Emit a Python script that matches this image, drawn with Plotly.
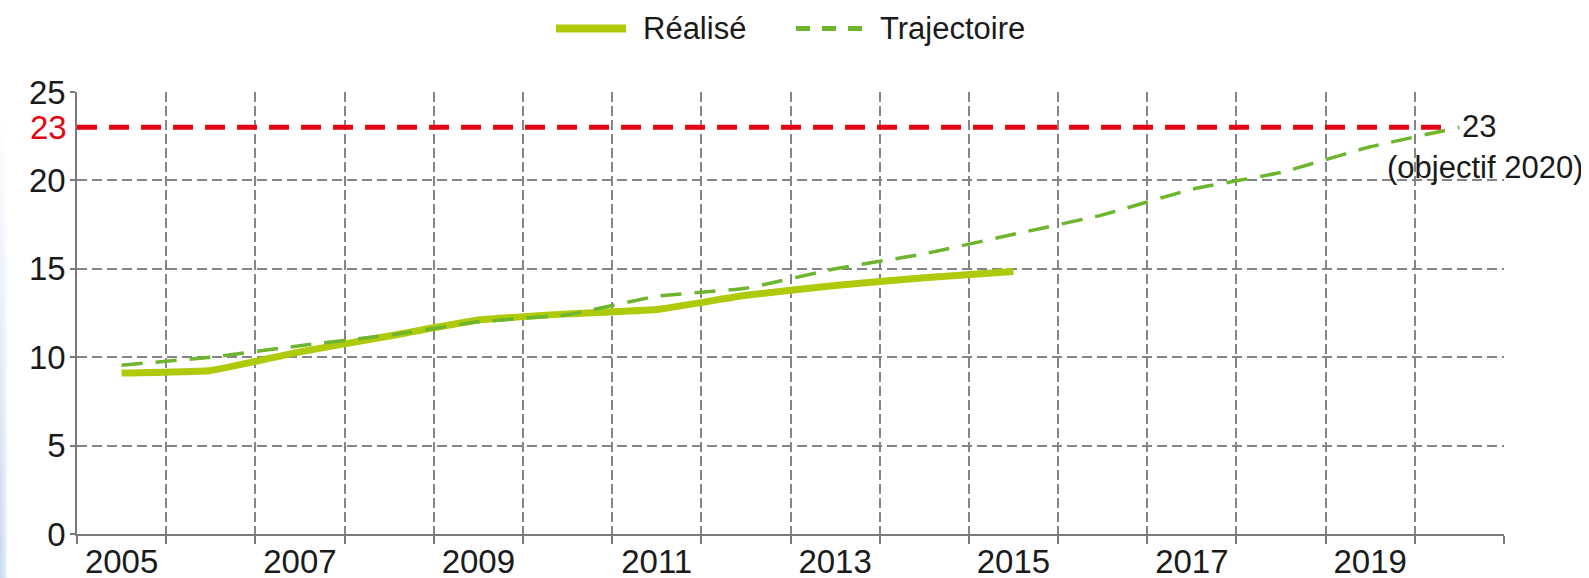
import plotly.graph_objects as go

# ---- data ----
years_realise = [2005, 2006, 2007, 2008, 2009, 2010, 2011, 2012, 2013, 2014, 2015]
realise = [9.1, 9.25, 10.3, 11.2, 12.1, 12.45, 12.7, 13.5, 14.05, 14.5, 14.85]

years_traj = list(range(2005, 2021))
trajectoire = [9.55, 10.0, 10.65, 11.25, 12.0, 12.4, 13.45, 13.9, 15.0, 15.85,
               16.95, 18.05, 19.5, 20.45, 21.9, 23.0]

target = 23
target_label = "23"
target_note = "(objectif 2020)"
x_labels = [2005, 2007, 2009, 2011, 2013, 2015, 2017, 2019]
y_ticks = [0, 5, 10, 15, 20, 25]
series_names = ["Réalisé", "Trajectoire"]

# ---- styling ----
FONT = "Liberation Sans, Arial, Helvetica, sans-serif"
C_REAL = "#afca0b"
C_TRAJ = "#6db52c"
C_RED = "#e30613"
C_GRID = "#858585"
C_TEXT = "#1a1a1a"

W, H = 1589, 578
BODY = 8  # default page margin of the html body
# plot area in page pixels
PL, PR, PT, PB = 77, 1504, 92, 534
PW, PH = PR - PL, PB - PT
ML, MT = PL - BODY, PT - BODY
MR, MB = W - ML - PW, H - MT - PH


def px_x(px):
    return (px - PL) / PW


def px_y(py):
    return (PB - py) / PH


fig = go.Figure()

fig.add_trace(go.Scatter(
    x=years_realise, y=realise, mode="lines", name=series_names[0],
    line=dict(color=C_REAL, width=7, shape="spline", smoothing=0.3),
    showlegend=False,
))
fig.add_trace(go.Scatter(
    x=years_traj, y=trajectoire, mode="lines", name=series_names[1],
    line=dict(color=C_TRAJ, width=3.5, dash="21px,13px", shape="spline", smoothing=0.3),
    showlegend=False,
))

shapes = []
# target line
shapes.append(dict(type="line", xref="x", yref="y", x0=2004.5, x1=2019.86,
                   y0=target, y1=target, layer="between",
                   line=dict(color=C_RED, width=5, dash="20px,12px")))

# manual legend
ly = px_y(28.6)
shapes.append(dict(type="line", xref="paper", yref="paper",
                   x0=px_x(556), x1=px_x(626), y0=ly, y1=ly,
                   line=dict(color=C_REAL, width=8)))
shapes.append(dict(type="line", xref="paper", yref="paper",
                   x0=px_x(796), x1=px_x(870), y0=ly, y1=ly,
                   line=dict(color=C_TRAJ, width=5, dash="14px,12px")))

annotations = [
    dict(xref="paper", yref="paper", x=px_x(641), y=ly, text=series_names[0],
         showarrow=False, xanchor="left", yanchor="middle",
         font=dict(family=FONT, size=31, color=C_TEXT)),
    dict(xref="paper", yref="paper", x=px_x(878), y=ly, text=series_names[1],
         showarrow=False, xanchor="left", yanchor="middle",
         font=dict(family=FONT, size=31, color=C_TEXT)),
    dict(xref="paper", yref="y", x=0, y=target, text=target_label,
         showarrow=False, xanchor="right", yanchor="middle", xshift=-8,
         font=dict(family=FONT, size=33, color=C_RED)),
    dict(xref="paper", yref="paper", x=px_x(1460), y=px_y(126.7), text=target_label,
         showarrow=False, xanchor="left", yanchor="middle",
         font=dict(family=FONT, size=31, color=C_TEXT)),
    dict(xref="paper", yref="paper", x=px_x(1385), y=px_y(167), text=target_note,
         showarrow=False, xanchor="left", yanchor="middle",
         font=dict(family=FONT, size=31, color=C_TEXT)),
]

boundaries = [y + 0.5 for y in range(2004, 2021)]

fig.update_layout(
    width=W, height=H,
    margin=dict(l=ML, r=MR, t=MT, b=MB, autoexpand=False),
    paper_bgcolor="white", plot_bgcolor="white",
    font=dict(family=FONT, color=C_TEXT),
    showlegend=False,
    shapes=shapes,
    annotations=annotations,
    xaxis=dict(
        range=[2004.5, 2020.5],
        tickmode="array", tickvals=x_labels, ticktext=[str(v) for v in x_labels],
        showgrid=False, ticks="", zeroline=False,
        tickfont=dict(family=FONT, size=33, color=C_TEXT),
        ticklabelstandoff=-2,
        showline=True, linecolor="#7a7a7a", linewidth=1.5,
        minor=dict(tickmode="array", tickvals=boundaries, showgrid=True,
                   gridcolor=C_GRID, gridwidth=1.5, griddash="10px,4px",
                   ticks="outside", ticklen=8, tickcolor="#7a7a7a", tickwidth=1.5),
    ),
    yaxis=dict(
        range=[0, 25],
        tickmode="array", tickvals=y_ticks,
        showgrid=True, gridcolor=C_GRID, gridwidth=1.5, griddash="10px,5px",
        zeroline=False,
        ticks="outside", ticklen=5, tickcolor="#7a7a7a", tickwidth=1.5,
        tickfont=dict(family=FONT, size=33, color=C_TEXT),
        ticklabelstandoff=-2,
        showline=True, linecolor="#7a7a7a", linewidth=1.5,
    ),
)

post = (
    "document.body.style.backgroundImage = "
    "'linear-gradient(to bottom, rgba(255,255,255,1) 110px, rgba(255,255,255,0) 578px), "
    "linear-gradient(to right, #c6d8ee 0px, #dfe9f5 5px, #ffffff 8px)';"
    "document.body.style.backgroundColor = '#ffffff';"
)

fig.write_html("out.html", post_script=post)
